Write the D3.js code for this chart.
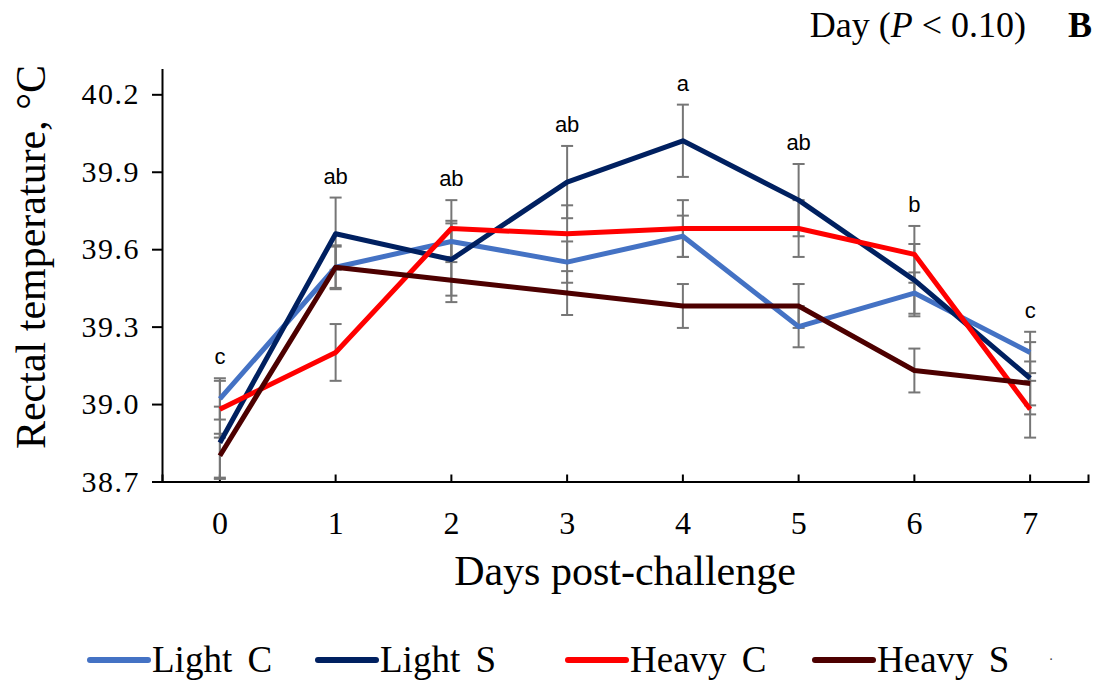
<!DOCTYPE html>
<html>
<head>
<meta charset="utf-8">
<script src="https://cdn.jsdelivr.net/npm/d3@7"></script>
<style>
  body { margin: 0; background: #fff; }
  svg { display: block; }
  .serif { font-family: "Liberation Serif", "Times New Roman", serif; }
  .sans { font-family: "Liberation Sans", Arial, sans-serif; }
</style>
</head>
<body>
<svg id="chart"></svg>
<script>
// data
const days = ["0", "1", "2", "3", "4", "5", "6", "7"];
const seriesNames = ["Light C", "Light S", "Heavy C", "Heavy S"];
const lightC = [39.02, 39.53, 39.63, 39.55, 39.65, 39.30, 39.43, 39.20];
const lightS = [38.85, 39.66, 39.56, 39.86, 40.02, 39.79, 39.48, 39.10];
const heavyC = [38.98, 39.20, 39.68, 39.66, 39.68, 39.68, 39.58, 38.98];
const heavyS = [38.80, 39.53, 39.48, 39.43, 39.38, 39.38, 39.13, 39.08];
// standard errors
const seLightC = [0.08, 0.08, 0.08, 0.08, 0.08, 0.08, 0.08, 0.08];
const seLightS = [0.14, 0.14, 0.14, 0.14, 0.14, 0.14, 0.14, 0.14];
const seHeavyC = [0.11, 0.11, 0.11, 0.11, 0.11, 0.11, 0.11, 0.11];
const seHeavyS = [0.085, 0.085, 0.085, 0.085, 0.085, 0.085, 0.085, 0.085];
const letters = ["c", "ab", "ab", "ab", "a", "ab", "b", "c"];
const yTicks = [38.7, 39.0, 39.3, 39.6, 39.9, 40.2];
const colors = ["#4472C4", "#002060", "#FF0000", "#4D0000"];

const W = 1098, H = 681;
const svg = d3.select("#chart").attr("width", W).attr("height", H);

const series = [
  { name: seriesNames[0], values: lightC, se: seLightC, color: colors[0] },
  { name: seriesNames[1], values: lightS, se: seLightS, color: colors[1] },
  { name: seriesNames[2], values: heavyC, se: seHeavyC, color: colors[2] },
  { name: seriesNames[3], values: heavyS, se: seHeavyS, color: colors[3] }
];

const x = d3.scaleBand().domain(days).range([162, 1088]).padding(0);
const y = d3.scaleLinear().domain([38.7, 40.3]).range([481.5, 68.5]);
const cx = d => x(d) + x.bandwidth() / 2;

// axes
const yAxis = d3.axisLeft(y)
  .tickValues(yTicks)
  .tickSize(10)
  .tickSizeOuter(0)
  .tickPadding(12)
  .tickFormat(d3.format(".1f"));
const gy = svg.append("g").attr("transform", "translate(162,0)").call(yAxis);
gy.attr("font-family", null);
gy.selectAll("text")
  .attr("class", "serif")
  .style("font-size", "30px")
  .style("letter-spacing", "1.5px")
  .attr("fill", "#000");

const xAxis = d3.axisBottom(x)
  .tickSize(-7)
  .tickSizeOuter(-7)
  .tickPadding(30);
const gx = svg.append("g").attr("transform", "translate(0,481.5)").call(xAxis);
gx.attr("font-family", null);
gx.selectAll("text")
  .attr("class", "serif")
  .style("font-size", "32px")
  .attr("fill", "#000");

svg.selectAll(".domain, .tick line").attr("stroke", "#000").attr("stroke-width", 2);

// error bars
const eb = svg.append("g");
series.forEach(s => {
  const g = eb.append("g");
  days.forEach((d, i) => {
    const top = y(s.values[i] + s.se[i]);
    const bot = y(s.values[i] - s.se[i]);
    g.append("line").attr("x1", cx(d)).attr("x2", cx(d)).attr("y1", top).attr("y2", bot);
    g.append("line").attr("x1", cx(d) - 6).attr("x2", cx(d) + 6).attr("y1", top).attr("y2", top);
    g.append("line").attr("x1", cx(d) - 6).attr("x2", cx(d) + 6).attr("y1", bot).attr("y2", bot);
  });
  g.attr("stroke", "#767676").attr("stroke-width", 2);
});

// lines
const line = d3.line().x((v, i) => cx(days[i])).y(v => y(v));
svg.append("g").selectAll("path")
  .data(series)
  .join("path")
  .attr("d", s => line(s.values))
  .attr("fill", "none")
  .attr("stroke", s => s.color)
  .attr("stroke-width", 5)
  .attr("stroke-linejoin", "round");

// significance letters
svg.append("g").selectAll("text")
  .data(days)
  .join("text")
  .attr("class", "sans")
  .attr("x", d => cx(d))
  .attr("y", (d, i) => y(d3.max(series, s => s.values[i] + s.se[i])) - 14)
  .attr("text-anchor", "middle")
  .style("font-size", "22px")
  .text((d, i) => letters[i]);

// axis titles
svg.append("text")
  .attr("class", "serif")
  .attr("transform", "translate(45,257) rotate(-90)")
  .attr("text-anchor", "middle")
  .style("font-size", "42px")
  .text("Rectal temperature, °C");

svg.append("text")
  .attr("class", "serif")
  .attr("x", 625).attr("y", 585)
  .attr("text-anchor", "middle")
  .style("font-size", "42px")
  .text("Days post-challenge");

// top-right annotation
const ann = svg.append("text")
  .attr("class", "serif")
  .attr("x", 1026).attr("y", 37)
  .attr("text-anchor", "end")
  .style("font-size", "36px");
ann.append("tspan").text("Day (");
ann.append("tspan").attr("font-style", "italic").text("P");
ann.append("tspan").text(" < 0.10)");

svg.append("text")
  .attr("class", "serif")
  .attr("x", 1092).attr("y", 37)
  .attr("text-anchor", "end")
  .style("font-size", "36px")
  .attr("font-weight", "bold")
  .text("B");

// legend
const legendX = [90, 318, 568, 815];
const lg = svg.append("g").selectAll("g")
  .data(series)
  .join("g")
  .attr("transform", (s, i) => `translate(${legendX[i]},660)`);
lg.append("line")
  .attr("x1", 0).attr("x2", 58)
  .attr("stroke", s => s.color)
  .attr("stroke-width", 6)
  .attr("stroke-linecap", "round");
lg.append("text")
  .attr("class", "serif")
  .attr("x", 62).attr("y", 12)
  .style("font-size", "37px")
  .attr("word-spacing", 6)
  .text(s => s.name);

svg.append("text")
  .attr("x", 1051).attr("y", 664)
  .attr("text-anchor", "middle")
  .attr("font-size", 14)
  .attr("fill", "#444")
  .text("·");
</script>
</body>
</html>
